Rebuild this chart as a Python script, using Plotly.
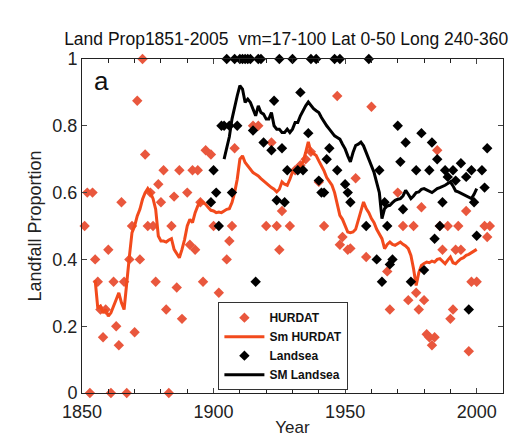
import plotly.graph_objects as go

# ---------------- data ----------------
hurdat_years = [1851, 1852, 1853, 1854, 1855, 1856, 1857, 1858, 1859, 1860,
                1861, 1862, 1863, 1864, 1865, 1866, 1867, 1868, 1869, 1870,
                1871, 1872, 1873, 1874, 1875, 1876, 1877, 1878, 1879, 1880,
                1881, 1882, 1883, 1884, 1885, 1886, 1887, 1888, 1890, 1891,
                1892, 1893, 1894, 1895, 1896, 1897, 1899, 1900, 1902, 1905,
                1906, 1907, 1908, 1915, 1917, 1920, 1922, 1924, 1925, 1926,
                1929, 1931, 1933, 1935, 1937, 1940, 1942, 1947, 1948, 1949,
                1951, 1952, 1954, 1958, 1960, 1966, 1967, 1970, 1972, 1974,
                1976, 1977, 1978, 1979, 1980, 1981, 1982, 1983, 1984, 1985,
                1986, 1987, 1989, 1990, 1991, 1992, 1993, 1994, 1996, 1997,
                1998, 2000, 2003, 2004, 2005]
hurdat_vals = [0.5, 0.6, 0.0, 0.6, 0.4, 0.333, 0.25, 0.167, 0.25, 0.429,
               0.0, 0.333, 0.2, 0.143, 0.571, 0.333, 0.0, 0.4, 0.5, 0.182,
               0.875, 0.4, 1.0, 0.714, 0.5, 0.6, 0.5, 0.333, 0.625, 0.571,
               0.667, 0.25, 0.0, 0.5, 0.588, 0.316, 0.667, 0.222, 0.6, 0.444,
               0.667, 0.429, 0.667, 0.571, 0.333, 0.727, 0.714, 0.5, 0.3, 0.4,
               0.455, 0.5, 0.733, 0.8, 0.8, 0.5, 0.75, 0.5, 0.429, 0.545,
               0.5, 0.667, 0.682, 0.7, 0.722, 0.632, 0.5, 0.889, 0.444, 0.467,
               0.429, 0.433, 0.643, 0.407, 0.857, 0.364, 0.25, 0.6, 0.5, 0.278,
               0.5, 0.3, 0.25, 0.556, 0.278, 0.176, 0.167, 0.143, 0.167, 0.727,
               0.5, 0.429, 0.5, 0.222, 0.25, 0.429, 0.5, 0.429, 0.545, 0.125,
               0.333, 0.333, 0.5, 0.467, 0.5]

landsea_years = [1899, 1900, 1901, 1902, 1903, 1904, 1905, 1906, 1907, 1908,
                 1909, 1910, 1911, 1912, 1913, 1914, 1915, 1916, 1917, 1918,
                 1919, 1922, 1923, 1924, 1925, 1926, 1927, 1928, 1930, 1932,
                 1933, 1934, 1936, 1937, 1939, 1940, 1941, 1942, 1943, 1944,
                 1946, 1947, 1948, 1950, 1951, 1952, 1958, 1959, 1962, 1963,
                 1964, 1965, 1966, 1967, 1968, 1970, 1971, 1972, 1973, 1975,
                 1977, 1979, 1980, 1982, 1983, 1984, 1985, 1986, 1987, 1988,
                 1989, 1991, 1992, 1994, 1996, 1997, 1998, 1999, 2000, 2002,
                 2003, 2004]
landsea_vals = [0.571, 0.667, 0.6, 0.5, 0.8, 0.8, 1.0, 0.8, 0.6, 1.0,
                0.8, 1.0, 1.0, 1.0, 1.0, 1.0, 0.786, 0.333, 1.0, 1.0,
                0.75, 0.727, 0.875, 0.577, 1.0, 0.733, 0.571, 0.667, 1.0, 0.667,
                0.9, 0.667, 0.778, 1.0, 1.0, 0.636, 0.6, 0.6, 0.7, 0.733,
                1.0, 0.667, 1.0, 0.625, 0.6, 0.571, 0.5, 1.0, 0.4, 0.667,
                0.333, 0.571, 0.5, 0.385, 0.4, 0.8, 0.692, 0.55, 0.75, 0.333,
                0.667, 0.778, 0.368, 0.667, 0.75, 0.462, 0.7, 0.5, 0.571, 0.667,
                0.647, 0.667, 0.636, 0.688, 0.647, 0.25, 0.667, 0.571, 0.471, 0.667,
                0.615, 0.733]

sm_hurdat_years = list(range(1855, 2001))
sm_hurdat_vals = [0.338, 0.254, 0.26, 0.24, 0.25, 0.23, 0.24, 0.258, 0.28, 0.30,
                  0.27, 0.25, 0.338, 0.408, 0.48, 0.50, 0.53, 0.55, 0.58, 0.60,
                  0.612, 0.60, 0.582, 0.55, 0.47, 0.455, 0.455, 0.452, 0.458, 0.462,
                  0.43, 0.418, 0.405, 0.43, 0.46, 0.50, 0.52, 0.51, 0.54, 0.56,
                  0.575, 0.57, 0.565, 0.555, 0.547, 0.545, 0.54, 0.542, 0.54, 0.545,
                  0.55, 0.552, 0.57, 0.60, 0.64, 0.70, 0.71, 0.69, 0.68, 0.67,
                  0.66, 0.655, 0.65, 0.642, 0.635, 0.63, 0.622, 0.615, 0.61, 0.602,
                  0.61, 0.632, 0.625, 0.622, 0.64, 0.662, 0.668, 0.672, 0.68, 0.692,
                  0.72, 0.752, 0.722, 0.715, 0.711, 0.695, 0.682, 0.665, 0.645, 0.635,
                  0.622, 0.60, 0.562, 0.532, 0.52, 0.502, 0.482, 0.48, 0.482, 0.49,
                  0.52, 0.542, 0.572, 0.552, 0.54, 0.522, 0.51, 0.49, 0.475, 0.462,
                  0.432, 0.445, 0.452, 0.445, 0.442, 0.448, 0.452, 0.445, 0.44, 0.432,
                  0.412, 0.372, 0.322, 0.36, 0.382, 0.388, 0.392, 0.39, 0.395, 0.392,
                  0.40, 0.402, 0.395, 0.387, 0.398, 0.407, 0.39, 0.387, 0.395, 0.402,
                  0.405, 0.412, 0.415, 0.42, 0.427, 0.43]

sm_landsea_years = list(range(1904, 2001))
sm_landsea_vals = [0.70, 0.73, 0.767, 0.82, 0.86, 0.89, 0.92, 0.91, 0.87, 0.88,
                   0.87, 0.85, 0.83, 0.86, 0.84, 0.835, 0.82, 0.82, 0.84, 0.80,
                   0.79, 0.79, 0.78, 0.78, 0.79, 0.78, 0.79, 0.81, 0.81, 0.83,
                   0.846, 0.86, 0.871, 0.86, 0.851, 0.845, 0.84, 0.825, 0.811, 0.80,
                   0.79, 0.781, 0.77, 0.765, 0.76, 0.745, 0.731, 0.71, 0.692, 0.72,
                   0.741, 0.745, 0.751, 0.74, 0.721, 0.70, 0.682, 0.66, 0.63, 0.60,
                   0.522, 0.552, 0.56, 0.562, 0.57, 0.577, 0.58, 0.582, 0.59, 0.607,
                   0.595, 0.582, 0.59, 0.60, 0.602, 0.61, 0.612, 0.608, 0.602, 0.60,
                   0.606, 0.612, 0.615, 0.618, 0.622, 0.627, 0.632, 0.62, 0.605, 0.602,
                   0.598, 0.592, 0.588, 0.585, 0.582, 0.595, 0.612]

x_tick_vals = [1850, 1900, 1950, 2000]
y_tick_vals = [0, 0.2, 0.4, 0.6, 0.8, 1]
y_tick_text = ["0", "0.2", "0.4", "0.6", "0.8", "1"]

title_text = "Land Prop1851-2005  vm=17-100 Lat 0-50 Long 240-360"

RED_DOT = "#e9573d"
RED_LINE = "#f24a1c"
BLACK = "#000000"
FONT = "Liberation Sans, Arial, sans-serif"

fig = go.Figure()
fig.add_trace(go.Scatter(
    x=hurdat_years, y=hurdat_vals, mode="markers", name="HURDAT",
    marker=dict(symbol="diamond", size=8, color=RED_DOT), cliponaxis=False))
fig.add_trace(go.Scatter(
    x=sm_hurdat_years, y=sm_hurdat_vals, mode="lines", name="Sm HURDAT",
    line=dict(color=RED_LINE, width=3)))
fig.add_trace(go.Scatter(
    x=landsea_years, y=landsea_vals, mode="markers", name="Landsea",
    marker=dict(symbol="diamond", size=8, color=BLACK), cliponaxis=False))
fig.add_trace(go.Scatter(
    x=sm_landsea_years, y=sm_landsea_vals, mode="lines", name="SM Landsea",
    line=dict(color=BLACK, width=3)))

# The page body has an 8px default margin, so the figure is sized 8px smaller
fig.update_layout(
    width=521, height=438,
    margin=dict(l=74, r=26, t=51, b=53),
    paper_bgcolor="white", plot_bgcolor="white",
    font=dict(family=FONT, size=18, color="#222222"),
    title=dict(text=title_text, x=0.534, xref="container", xanchor="center",
               y=0.93, yref="container", yanchor="middle",
               font=dict(family=FONT, size=17.5, color="#111111")),
    showlegend=True,
    legend=dict(x=0.324, y=0.272, xanchor="left", yanchor="top",
                bordercolor="#333333", borderwidth=1, bgcolor="white",
                font=dict(family=FONT, size=12, color="#111111", weight="bold"),
                tracegroupgap=0, itemwidth=40),
    annotations=[dict(text="a", x=0.046, y=0.935, xref="paper", yref="paper",
                      xanchor="center", yanchor="middle", showarrow=False,
                      font=dict(family=FONT, size=26, color="#111111"))],
)
fig.update_xaxes(
    range=[1850, 2010], tickvals=x_tick_vals, ticks="inside", ticklen=5,
    showline=True, linecolor="#222222", linewidth=1, mirror="ticks",
    showgrid=False, zeroline=False, ticklabelstandoff=2,
    minor=dict(dtick=10, tick0=1850, ticks="inside", ticklen=4, tickcolor="#222222", showgrid=False),
    tickfont=dict(size=18), title=dict(text="Year", font=dict(size=17), standoff=0))
fig.update_yaxes(
    range=[0, 1], tickvals=y_tick_vals, ticktext=y_tick_text, ticks="inside", ticklen=5,
    showline=True, linecolor="#222222", linewidth=1, mirror="ticks",
    showgrid=False, zeroline=False,
    tickfont=dict(size=18), title=dict(text="Landfall Proportion", font=dict(size=18), standoff=6))

fig.write_html("out.html")
